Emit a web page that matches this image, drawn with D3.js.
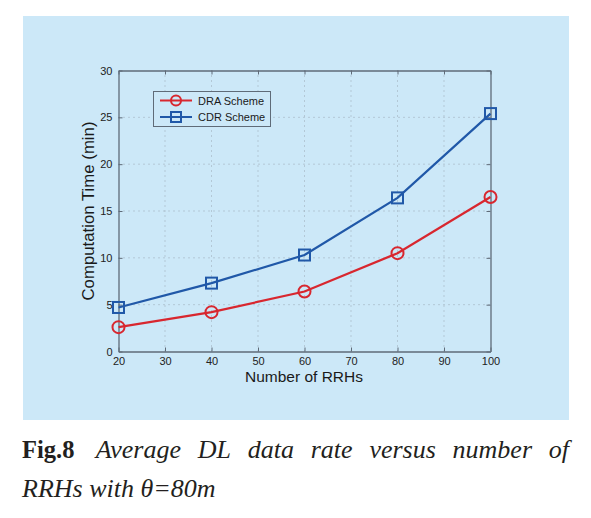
<!DOCTYPE html>
<html><head><meta charset="utf-8">
<script src="https://cdn.jsdelivr.net/npm/d3@7"></script>
<style>body{margin:0;background:#fff}svg{display:block}</style>
</head><body>
<svg id="c" width="591" height="518"></svg>
<script>
const rrhs = [20, 40, 60, 80, 100];
const draValues = [2.6, 4.2, 6.4, 10.5, 16.5];
const cdrValues = [4.7, 7.3, 10.3, 16.4, 25.4];
const xTicks = [20, 30, 40, 50, 60, 70, 80, 90, 100];
const yTicks = [0, 5, 10, 15, 20, 25, 30];
const seriesNames = ["DRA Scheme", "CDR Scheme"];

const svg = d3.select("#c");
svg.append("rect").attr("x", 23).attr("y", 16).attr("width", 546).attr("height", 404).attr("fill", "#cce8f8");

const L = 118.5, R = 490.5, T = 70.5, B = 351.5;
const x = d3.scaleLinear().domain([20, 100]).range([L, R]);
const y = d3.scaleLinear().domain([0, 30]).range([B, T]);
const font = "'Liberation Sans', Arial, sans-serif";
const axisCol = "#5f6b78";

// grid
const g = svg.append("g");
g.selectAll(".gx").data(xTicks.slice(1, -1)).join("line")
  .attr("x1", d => x(d)).attr("x2", d => x(d)).attr("y1", T).attr("y2", B)
  .attr("stroke", "#9aa8b4").attr("stroke-width", 1).attr("stroke-dasharray", "1,4");
g.selectAll(".gy").data(yTicks.slice(1, -1)).join("line")
  .attr("y1", d => y(d)).attr("y2", d => y(d)).attr("x1", L).attr("x2", R)
  .attr("stroke", "#9aa8b4").attr("stroke-width", 1).attr("stroke-dasharray", "1,4");

// axes via d3
svg.append("g").attr("transform", `translate(0,${B})`)
  .call(d3.axisBottom(x).tickValues(xTicks).tickSizeInner(-4).tickSizeOuter(0).tickPadding(6));
svg.append("g").attr("transform", `translate(${L},0)`)
  .call(d3.axisLeft(y).tickValues(yTicks).tickSizeInner(-4).tickSizeOuter(0).tickPadding(6));
svg.append("g").attr("transform", `translate(0,${T})`)
  .call(d3.axisTop(x).tickValues(xTicks).tickSizeInner(-4).tickSizeOuter(0).tickFormat(""));
svg.append("g").attr("transform", `translate(${R},0)`)
  .call(d3.axisRight(y).tickValues(yTicks).tickSizeInner(-4).tickSizeOuter(0).tickFormat(""));
svg.selectAll(".domain").attr("stroke", axisCol).attr("stroke-width", 1.3);
svg.selectAll(".tick line").attr("stroke", axisCol);
svg.selectAll(".tick text").attr("font-family", font).attr("font-size", 11).attr("fill", "#222");

// labels
svg.append("text").attr("x", 304).attr("y", 382).attr("text-anchor", "middle")
  .attr("font-family", font).attr("font-size", 15.5).attr("fill", "#1a1a1a").text("Number of RRHs");
svg.append("text").attr("transform", `translate(94,211) rotate(-90)`).attr("text-anchor", "middle")
  .attr("font-family", font).attr("font-size", 16.8).attr("fill", "#1a1a1a").text("Computation Time (min)");

const red = "#d8272f", blue = "#2058a8";
const line = d3.line().x((d, i) => x(rrhs[i])).y(d => y(d));
svg.append("path").datum(cdrValues).attr("d", line).attr("fill", "none").attr("stroke", blue).attr("stroke-width", 2.2);
svg.append("path").datum(draValues).attr("d", line).attr("fill", "none").attr("stroke", red).attr("stroke-width", 2.2);
svg.selectAll(".sq").data(cdrValues).join("rect")
  .attr("x", (d, i) => x(rrhs[i]) - 5.5).attr("y", d => y(d) - 5.5).attr("width", 11).attr("height", 11)
  .attr("fill", "none").attr("stroke", blue).attr("stroke-width", 2);
svg.selectAll(".ci").data(draValues).join("circle")
  .attr("cx", (d, i) => x(rrhs[i])).attr("cy", d => y(d)).attr("r", 6)
  .attr("fill", "none").attr("stroke", red).attr("stroke-width", 2);

// legend
const lg = svg.append("g");
lg.append("rect").attr("x", 153.5).attr("y", 91.5).attr("width", 117).attr("height", 35)
  .attr("fill", "#cce8f8").attr("stroke", axisCol).attr("stroke-width", 1);
[red, blue].forEach((c, i) => {
  const yy = 100.5 + i * 16.5;
  lg.append("line").attr("x1", 160).attr("x2", 192).attr("y1", yy).attr("y2", yy).attr("stroke", c).attr("stroke-width", 2);
  if (i === 0) lg.append("circle").attr("cx", 176).attr("cy", yy).attr("r", 5).attr("fill", "none").attr("stroke", c).attr("stroke-width", 2);
  else lg.append("rect").attr("x", 171).attr("y", yy - 5).attr("width", 10).attr("height", 10).attr("fill", "none").attr("stroke", c).attr("stroke-width", 2);
  lg.append("text").attr("x", 198).attr("y", yy + 4).attr("font-family", font).attr("font-size", 11).attr("fill", "#1a1a1a").text(seriesNames[i]);
});

// caption
const serif = "'Liberation Serif', 'Times New Roman', serif";
const words1 = [["Fig.8", true], ["Average", false], ["DL", false], ["data", false], ["rate", false], ["versus", false], ["number", false], ["of", false]];
const cap = svg.append("g");
const nodes = words1.map(([w, b]) => cap.append("text").attr("y", 458).attr("font-family", serif).attr("font-size", b ? 24.5 : 26)
  .attr("font-weight", b ? "bold" : "normal").attr("font-style", b ? "normal" : "italic").attr("fill", "#231f20").text(w));
const widths = nodes.map(n => n.node().getComputedTextLength());
const left = 22, right = 569;
const total = widths.reduce((a, b) => a + b, 0);
const gap = (right - left - total) / (nodes.length - 1);
let cx = left;
nodes.forEach((n, i) => { n.attr("x", cx); cx += widths[i] + (i === 0 ? gap + 4 : gap - 4 / (nodes.length - 2)); });
cap.append("text").attr("x", left).attr("y", 497).attr("font-family", serif).attr("font-size", 26)
  .attr("font-style", "italic").attr("fill", "#231f20").text("RRHs with θ=80m");
</script>
</body></html>
